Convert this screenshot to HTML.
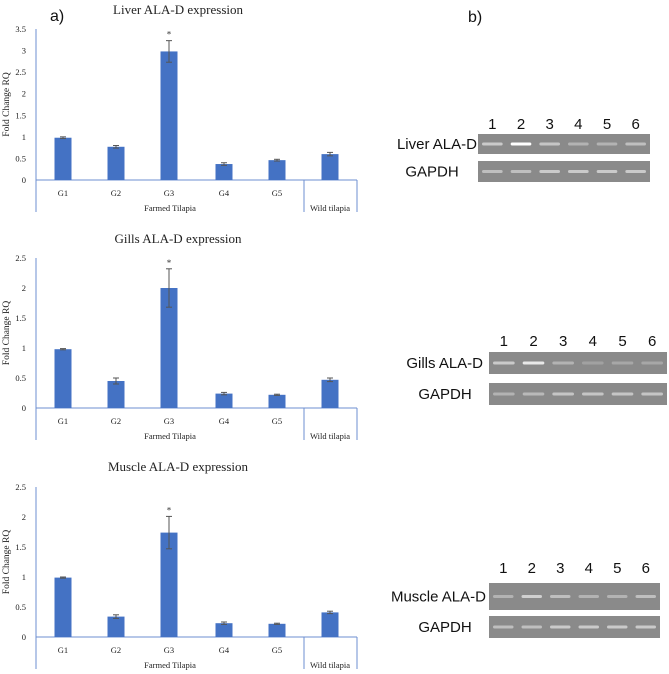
<!DOCTYPE html>
<html><head><meta charset="utf-8"><style>
html,body{margin:0;padding:0;background:#fff;width:669px;height:674px;overflow:hidden}
svg{display:block}
</style></head><body>
<svg id="fig" width="669" height="674" viewBox="0 0 669 674" xmlns="http://www.w3.org/2000/svg">
<text x="50" y="21" font-family="Liberation Sans, sans-serif" font-size="16" fill="#111">a)</text>
<text x="468" y="22" font-family="Liberation Sans, sans-serif" font-size="16" fill="#111">b)</text>
<g id="charts"></g>
<g id="gels"></g>
</svg>
<script>
const categories = ["G1","G2","G3","G4","G5","Wild"];
const titles = ["Liver ALA-D expression","Gills ALA-D expression","Muscle ALA-D expression"];
const liverValues = [0.98,0.77,2.98,0.37,0.46,0.60];
const liverErrors = [0.02,0.03,0.25,0.03,0.02,0.04];
const gillsValues = [0.98,0.45,2.00,0.24,0.22,0.47];
const gillsErrors = [0.01,0.05,0.32,0.02,0.01,0.03];
const muscleValues = [0.99,0.34,1.74,0.23,0.22,0.41];
const muscleErrors = [0.01,0.03,0.27,0.02,0.01,0.02];
const liverTicks = ["0","0.5","1","1.5","2","2.5","3","3.5"];
const gillsTicks = ["0","0.5","1","1.5","2","2.5"];
const muscleTicks = ["0","0.5","1","1.5","2","2.5"];
const significant = [false,false,true,false,false,false];

const NS="http://www.w3.org/2000/svg";
function mk(tag,attrs,parent){const e=document.createElementNS(NS,tag);for(const k in attrs)e.setAttribute(k,attrs[k]);parent.appendChild(e);return e;}
const serif="Liberation Serif, serif";
const root=document.getElementById('charts');

const panels=[
 {title:titles[0],vals:liverValues,errs:liverErrors,ticks:liverTicks,zero:180,top:29,titleY:14,name:'liver'},
 {title:titles[1],vals:gillsValues,errs:gillsErrors,ticks:gillsTicks,zero:408,top:258,titleY:243,name:'gills'},
 {title:titles[2],vals:muscleValues,errs:muscleErrors,ticks:muscleTicks,zero:637,top:487,titleY:471,name:'muscle'}
];
const axX=36, axR=357, sepX=304;
const centers=[63,116,169,224,277,330]; // category slot centers
panels.forEach(p=>{
 const g=mk('g',{},root);
 
 
 const maxV=parseFloat(p.ticks[p.ticks.length-1]);
 const y=v=>p.zero-(v/maxV)*(p.zero-p.top);
 const t=mk('text',{x:178,y:p.titleY,'text-anchor':'middle','font-family':serif,'font-size':13,fill:'#222'},g);
 t.textContent=p.title;
 
 
 const yt=mk('text',{x:0,y:0,'text-anchor':'middle','font-family':serif,'font-size':9.5,fill:'#222',transform:`translate(9,${(p.zero+p.top)/2}) rotate(-90)`},g);
 yt.textContent='Fold Change RQ';
 
 
 p.ticks.forEach(tk=>{
  const tl=mk('text',{x:26,y:y(parseFloat(tk))+3,'text-anchor':'end','font-family':serif,'font-size':8.5,fill:'#222'},g);
  tl.textContent=tk;
  
  
 });
 const bottom=p.zero+32;
 const ax=mk('line',{x1:axX,y1:p.top,x2:axX,y2:bottom,stroke:'#6d8fd0','stroke-width':1},g);
 
 
 const xa=mk('line',{x1:axX,y1:p.zero,x2:axR,y2:p.zero,stroke:'#6d8fd0','stroke-width':1},g);
 
 
 [sepX,axR].forEach(sx=>{
  const s=mk('line',{x1:sx,y1:p.zero,x2:sx,y2:bottom,stroke:'#6d8fd0','stroke-width':1},g);
  
  
 });
 p.vals.forEach((v,i)=>{
  const cx=centers[i];
  const b=mk('rect',{x:cx-8.5,y:y(v),width:17,height:p.zero-y(v),fill:'#4472c4'},g);
  
  
  const e=p.errs[i];
  const eg=mk('g',{stroke:'#555','stroke-width':1},g);
  
  
  mk('line',{x1:cx,y1:y(v+e),x2:cx,y2:y(v-e)},eg);
  mk('line',{x1:cx-3,y1:y(v+e),x2:cx+3,y2:y(v+e)},eg);
  mk('line',{x1:cx-3,y1:y(v-e),x2:cx+3,y2:y(v-e)},eg);
  if(significant[i]){
   const a=mk('text',{x:cx,y:y(v+e)-3,'text-anchor':'middle','font-family':serif,'font-size':9,fill:'#333'},g);
   a.textContent='*';
   
   
  }
  if(i<5){
   const cl=mk('text',{x:cx,y:p.zero+16,'text-anchor':'middle','font-family':serif,'font-size':8.5,fill:'#222'},g);
   cl.textContent=categories[i];
   
   
  }
 });
 const f=mk('text',{x:170,y:p.zero+31,'text-anchor':'middle','font-family':serif,'font-size':8.5,fill:'#222'},g);
 f.textContent='Farmed Tilapia';
 
 
 const w=mk('text',{x:330,y:p.zero+31,'text-anchor':'middle','font-family':serif,'font-size':8.5,fill:'#222'},g);
 w.textContent='Wild tilapia';
 
 
});

// gels
const gelRoot=document.getElementById('gels');
const gels=[
 {label:'Liver ALA-D',x1:478,x2:650,numY:129,b1:[134,154],b2:[161,182],lx:477,gx:432,tb:[0.55,1,0.5,0.35,0.35,0.45],gb:[0.45,0.45,0.55,0.55,0.55,0.55]},
 {label:'Gills ALA-D',x1:489,x2:667,numY:346,b1:[352,374],b2:[383,405],lx:483,gx:445,tb:[0.55,0.8,0.35,0.2,0.25,0.25],gb:[0.35,0.4,0.5,0.5,0.5,0.5]},
 {label:'Muscle ALA-D',x1:489,x2:660,numY:573,b1:[583,610],b2:[616,638],lx:486,gx:445,tb:[0.35,0.6,0.45,0.35,0.35,0.45],gb:[0.45,0.45,0.55,0.55,0.55,0.55]}
];
gels.forEach((gl,k)=>{
 const g=mk('g',{},gelRoot);
 
 
 const lw=(gl.x2-gl.x1)/6;
 for(let i=0;i<6;i++){
  const n=mk('text',{x:gl.x1+lw*(i+0.5),y:gl.numY,'text-anchor':'middle','font-family':'Liberation Sans, sans-serif','font-size':15,fill:'#111'},g);
  n.textContent=String(i+1);
  
  
 }
 [[gl.b1,gl.tb,gl.label,gl.lx,'end'],[gl.b2,gl.gb,'GAPDH',gl.gx,'middle']].forEach(([b,br,lab,lx,anc])=>{
  const r=mk('rect',{x:gl.x1,y:b[0],width:gl.x2-gl.x1,height:b[1]-b[0],fill:'#8a8a8a'},g);
  
  
  const cy=(b[0]+b[1])/2;
  br.forEach((a,i)=>{
   const band=mk('rect',{x:gl.x1+lw*i+4,y:cy-1.5,width:lw-8,height:3,rx:1.5,fill:`rgba(255,255,255,${a})`},g);
   
   
  });
  const t=mk('text',{x:lx,y:cy+5,'text-anchor':anc,'font-family':'Liberation Sans, sans-serif','font-size':15,fill:'#111'},g);
  t.textContent=lab;
  
  
 });
});
</script>
</body></html>
